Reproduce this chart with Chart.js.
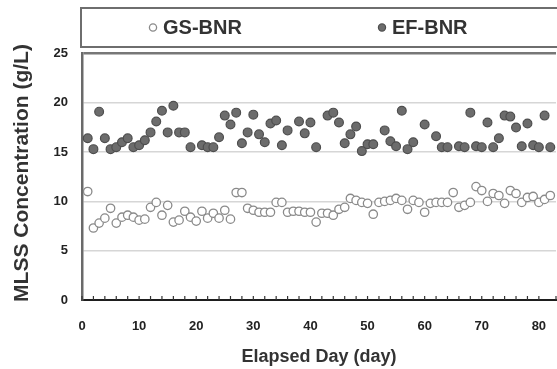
<!DOCTYPE html>
<html>
<head>
<meta charset="utf-8">
<script src="https://cdn.jsdelivr.net/npm/chart.js@4/dist/chart.umd.min.js"></script>
<style>
  html, body { margin: 0; padding: 0; background: #fff; overflow: hidden; }
  #wrap { position: absolute; left: 0; top: 0; width: 575px; height: 369px; }
</style>
</head>
<body>
<div id="wrap"><canvas id="c" width="575" height="369"></canvas></div>
<script>
// MLSS concentration in the two reactors over the operating period
const seriesNames = ['GS-BNR', 'EF-BNR'];

const gsDays = [1,2,3,4,5,6,7,8,9,10,11,12,13,14,15,16,17,18,19,20,
  21,22,23,24,25,26,27,28,29,30,31,32,33,34,35,36,37,38,39,40,
  41,42,43,44,45,46,47,48,49,50,51,52,53,54,55,56,57,58,59,60,
  61,62,63,64,65,66,67,68,69,70,71,72,73,74,75,76,77,78,79,80,81,82];
const gsMlss = [11.0,7.3,7.8,8.3,9.3,7.8,8.4,8.6,8.4,8.1,8.2,9.4,9.9,8.6,9.6,7.9,8.1,9.0,8.4,8.0,
  9.0,8.3,8.8,8.3,9.1,8.2,10.9,10.9,9.3,9.1,8.9,8.9,8.9,9.9,9.9,8.9,9.0,9.0,8.9,8.9,
  7.9,8.8,8.8,8.6,9.2,9.4,10.3,10.1,9.9,9.8,8.7,9.9,10.0,10.1,10.3,10.1,9.2,10.1,9.9,8.9,
  9.8,9.9,9.9,9.9,10.9,9.4,9.6,9.9,11.5,11.1,10.0,10.8,10.6,9.8,11.1,10.8,9.9,10.4,10.5,9.9,10.2,10.6];

const efDays = [1,2,3,4,5,6,7,8,9,10,11,12,13,14,15,16,17,18,19,
  21,22,23,24,25,26,27,28,29,30,31,32,33,34,35,36,
  38,39,40,41,43,44,45,46,47,48,49,50,51,53,54,55,56,57,58,
  60,62,63,64,66,67,68,69,70,71,72,73,74,75,76,77,78,79,80,81,82];
const efMlss = [16.4,15.3,19.1,16.4,15.3,15.5,16.0,16.4,15.5,15.7,16.2,17.0,18.1,19.2,17.0,19.7,17.0,17.0,15.5,
  15.7,15.5,15.5,16.5,18.7,17.8,19.0,15.9,17.0,18.8,16.8,16.0,17.9,18.2,15.7,17.2,
  18.1,16.9,18.0,15.5,18.7,19.0,18.0,15.9,16.8,17.6,15.1,15.8,15.8,17.2,16.1,15.6,19.2,15.3,16.0,
  17.8,16.6,15.5,15.5,15.6,15.5,19.0,15.6,15.5,18.0,15.5,16.4,18.7,18.6,17.5,15.6,17.9,15.7,15.5,18.7,15.5];

const xTickLabels = [0, 10, 20, 30, 40, 50, 60, 70, 80];
const yTickLabels = [0, 5, 10, 15, 20, 25];
const xTitle = 'Elapsed Day (day)';
const yTitle = 'MLSS Concentration (g/L)';

const FONT = '"Liberation Sans", Arial, Helvetica, sans-serif';

function toPoints(xs, ys) { return xs.map((x, i) => ({ x: x, y: ys[i] })); }

// Framed legend strip above the plot
const framedLegend = {
  id: 'framedLegend',
  afterDraw(chart, args, opts) {
    const { ctx, chartArea } = chart;
    ctx.save();
    ctx.strokeStyle = '#6e6e6e';
    ctx.lineWidth = 2;
    ctx.strokeRect(chartArea.left - 1, opts.top, chart.width, opts.height);
    ctx.font = 'bold 20px ' + FONT;
    ctx.textBaseline = 'middle';
    const cy = opts.top + opts.height / 2;
    chart.data.datasets.forEach((ds, i) => {
      const cx = opts.itemX[i];
      ctx.beginPath();
      ctx.arc(cx, cy, 3.6, 0, Math.PI * 2);
      ctx.fillStyle = ds.backgroundColor;
      ctx.fill();
      ctx.lineWidth = ds.borderWidth;
      ctx.strokeStyle = ds.borderColor;
      ctx.stroke();
      ctx.fillStyle = '#333';
      ctx.fillText(ds.label, cx + 10, cy + 1);
    });
    ctx.restore();
  }
};

// Rotated y-axis title and inward minor ticks on the day axis
const axisDecor = {
  id: 'axisDecor',
  afterDraw(chart, args, opts) {
    const { ctx } = chart;
    const xs = chart.scales.x;
    ctx.save();
    ctx.strokeStyle = '#333';
    ctx.lineWidth = 1.2;
    xs.ticks.forEach(t => {
      const px = xs.getPixelForValue(t.value);
      ctx.beginPath();
      ctx.moveTo(px, xs.top);
      ctx.lineTo(px, xs.top - 4);
      ctx.stroke();
    });
    ctx.translate(opts.yTitleX, opts.yTitleY);
    ctx.rotate(-Math.PI / 2);
    ctx.font = 'bold 21px ' + FONT;
    ctx.fillStyle = '#333';
    ctx.textAlign = 'center';
    ctx.textBaseline = 'middle';
    ctx.fillText(yTitle, 0, 0);
    ctx.restore();
  }
};

new Chart(document.getElementById('c'), {
  type: 'scatter',
  data: {
    datasets: [
      {
        label: seriesNames[0],
        data: toPoints(gsDays, gsMlss),
        pointStyle: 'circle',
        pointRadius: 4.2,
        pointHoverRadius: 4.2,
        borderWidth: 1.3,
        borderColor: '#8a8a8a',
        backgroundColor: '#ffffff'
      },
      {
        label: seriesNames[1],
        data: toPoints(efDays, efMlss),
        pointStyle: 'circle',
        pointRadius: 4.4,
        pointHoverRadius: 4.4,
        borderWidth: 1.2,
        borderColor: '#4e4e4e',
        backgroundColor: '#6c6c6c'
      }
    ]
  },
  options: {
    responsive: false,
    animation: false,
    devicePixelRatio: 1,
    layout: { padding: { top: 53.5, right: 10, bottom: 0, left: 0 } },
    plugins: {
      legend: { display: false },
      tooltip: { enabled: false },
      framedLegend: { top: 8, height: 39, itemX: [153, 382] },
      axisDecor: { yTitleX: 22, yTitleY: 173 }
    },
    scales: {
      x: {
        type: 'linear',
        min: 0,
        max: 83,
        afterFit(s) { s.height = 69; },
        grid: { display: false, drawTicks: false },
        border: { display: true, color: '#1e1e1e', width: 2 },
        ticks: {
          stepSize: 2,
          autoSkip: false,
          maxRotation: 0,
          padding: 19,
          color: '#222',
          font: { family: FONT, size: 13, weight: 'bold' },
          callback: v => (xTickLabels.includes(v) ? String(v) : '')
        },
        title: {
          display: true,
          text: xTitle,
          color: '#333',
          padding: { top: 0, bottom: 3 },
          font: { family: FONT, size: 18, weight: 'bold', lineHeight: 1 }
        }
      },
      y: {
        min: 0,
        max: 25,
        afterFit(s) { s.width = 82; },
        grid: {
          drawTicks: false,
          color: c => (c.tick.value === 25 ? '#777777' : (c.tick.value === 0 ? 'rgba(0,0,0,0)' : '#d6d6d6')),
          lineWidth: c => (c.tick.value === 25 ? 2.5 : 1.5)
        },
        border: { display: true, color: '#6a6a6a', width: 2.5 },
        afterBuildTicks(s) { s.ticks = yTickLabels.map(v => ({ value: v })); },
        ticks: {
          padding: 14,
          color: '#222',
          font: { family: FONT, size: 13, weight: 'bold' }
        }
      }
    }
  },
  plugins: [framedLegend, axisDecor]
});
</script>
</body>
</html>
